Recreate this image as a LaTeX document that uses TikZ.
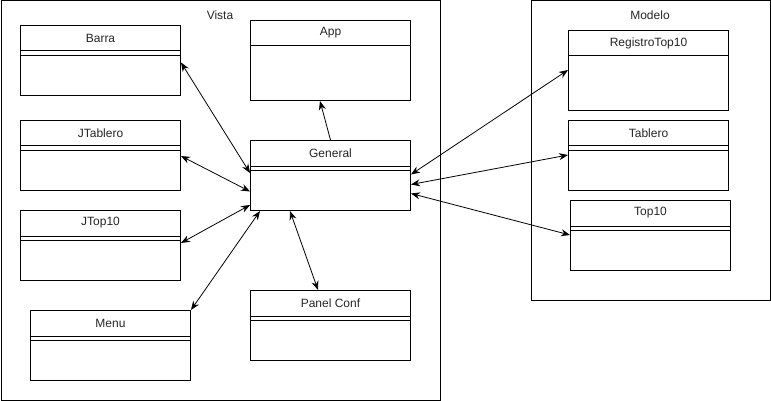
\documentclass[tikz,border=0pt]{standalone}
\usepackage{fontspec}
\setmainfont{Liberation Sans}
\usetikzlibrary{arrows.meta}

% class box: name, x, y, width, height, title
\newcommand{\classbox}[6]{%
  \node[classrect, minimum width=#4pt, minimum height=#5pt, anchor=north west] (#1) at (#2,#3) {};
  \node[classtitle] (#1-title) at ([yshift=-13pt]#1.north) {#6};
  \draw[sepline] ([yshift=-26pt]#1.north west) -- ([yshift=-26pt]#1.north east);
}
% extra separator for boxes with a double line under the title
\newcommand{\secondline}[1]{%
  \draw[sepline] ([yshift=-30.5pt]#1.north west) -- ([yshift=-30.5pt]#1.north east);
}

\begin{document}
\begin{tikzpicture}[x=1pt, y=-1pt,
  font=\fontsize{12}{14}\selectfont,
  group/.style={draw=black, line width=1pt, fill=none, inner sep=0pt, anchor=north west},
  grouptitle/.style={text=black!85, inner sep=0pt},
  classrect/.style={draw=black, line width=1pt, fill=white, inner sep=0pt},
  classtitle/.style={text=black!85, inner sep=0pt},
  sepline/.style={line width=1pt},
  link/.style={line width=0.8pt, -{Stealth[length=9pt,width=7pt]}},
  bilink/.style={line width=0.8pt, {Stealth[length=9pt,width=7pt]}-{Stealth[length=9pt,width=7pt]}}
]
\useasboundingbox (0,0) rectangle (771,401);

% packages
\node[group, minimum width=439.5pt, minimum height=399.5pt] (vista) at (0.5,0.5) {};
\node[grouptitle] (vista-title) at (220,15) {Vista};
\node[group, minimum width=239.5pt, minimum height=299.5pt] (modelo) at (530.5,0.5) {};
\node[grouptitle] (modelo-title) at (650,15) {Modelo};

% view classes
\classbox{barra}{20}{25}{160}{70}{Barra}\secondline{barra}
\classbox{app}{250}{20}{160}{80}{App}
\classbox{jtablero}{20}{120}{160}{70}{JTablero}\secondline{jtablero}
\classbox{general}{250}{140}{160}{70}{General}\secondline{general}
\classbox{jtop}{20}{210}{160}{70}{JTop10}\secondline{jtop}
\classbox{menu}{30}{310}{160}{70}{Menu}\secondline{menu}
\classbox{panel}{250}{290}{160}{70}{Panel Conf}\secondline{panel}

% model classes
\classbox{registro}{568}{30}{160}{80}{RegistroTop10}
\classbox{tablero}{568}{120}{160}{70}{Tablero}\secondline{tablero}
\classbox{top}{570}{200}{160}{70}{Top10}\secondline{top}

% associations
\draw[link] (general.north) -- ([xshift=70pt]app.south west);
\draw[bilink] ([yshift=-37.5pt]barra.north east) -- ([yshift=-33pt]general.north west);
\draw[bilink] ([yshift=-36pt]jtablero.north east) -- ([yshift=-51.5pt]general.north west);
\draw[bilink] ([yshift=-33pt]jtop.north east) -- ([yshift=-65pt]general.north west);
\draw[bilink] (menu.north east) -- ([xshift=10pt]general.south west);
\draw[bilink] ([xshift=40pt]general.south west) -- ([xshift=68pt]panel.north west);
\draw[bilink] ([yshift=-34.5pt]general.north east) -- ([yshift=-40pt]registro.north west);
\draw[bilink] ([yshift=-44.5pt]general.north east) -- ([yshift=-35pt]tablero.north west);
\draw[bilink] ([yshift=-53.5pt]general.north east) -- ([yshift=-35pt]top.north west);
\end{tikzpicture}
\end{document}
